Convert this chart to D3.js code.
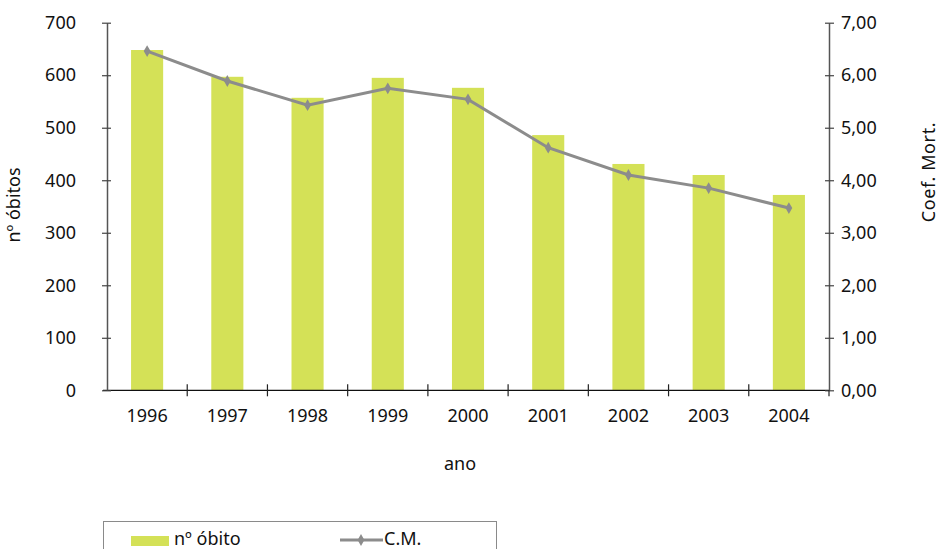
<!DOCTYPE html>
<html>
<head>
<meta charset="utf-8">
<script src="https://cdn.jsdelivr.net/npm/d3@7"></script>
<style>
  html, body { margin: 0; padding: 0; background: #fff; }
  svg text { font-family: "Noto Sans", "DejaVu Sans", sans-serif; fill: #111; }
</style>
</head>
<body>
<svg id="chart" width="948" height="549"></svg>
<script>
// Deaths per year and mortality coefficient
const years = ["1996", "1997", "1998", "1999", "2000", "2001", "2002", "2003", "2004"];
const obitos = [648, 597, 557, 595, 576, 486, 431, 410, 372];
const coefMort = [6.46, 5.89, 5.43, 5.75, 5.54, 4.62, 4.10, 3.85, 3.47];
const leftTicks = [0, 100, 200, 300, 400, 500, 600, 700];
const rightTicks = [0, 1, 2, 3, 4, 5, 6, 7];

const barColor = "#d4e157";
const lineColor = "#8c8c8c";
const fs = 18;

const svg = d3.select("#chart");
const plot = { left: 107, right: 829, top: 22.7, bottom: 390.3 };

const x = d3.scaleBand().domain(years).range([plot.left, plot.right]).paddingInner(0.6).paddingOuter(0.3);
const xEdges = d3.scaleBand().domain(years).range([plot.left, plot.right]);
const yL = d3.scaleLinear().domain([0, 700]).range([plot.bottom, plot.top]);
const yR = d3.scaleLinear().domain([0, 7]).range([plot.bottom, plot.top]);

// bars
svg.append("g").selectAll("rect").data(years).join("rect")
  .attr("x", d => x(d))
  .attr("width", x.bandwidth())
  .attr("y", (d, i) => yL(obitos[i]))
  .attr("height", (d, i) => plot.bottom - yL(obitos[i]))
  .attr("fill", barColor);

// x axis: baseline, ticks on category boundaries, year labels
const gx = svg.append("g");
gx.append("line").attr("x1", plot.left - 4).attr("x2", plot.right)
  .attr("y1", plot.bottom).attr("y2", plot.bottom)
  .attr("stroke", "#111").attr("stroke-width", 1.2);
const edges = years.slice(1).map(d => xEdges(d));
gx.selectAll("line.tk").data(edges).join("line").attr("class", "tk")
  .attr("x1", d => d).attr("x2", d => d)
  .attr("y1", plot.bottom - 6).attr("y2", plot.bottom + 6)
  .attr("stroke", "#222").attr("stroke-width", 1.2);
gx.selectAll("text").data(years).join("text")
  .attr("x", d => xEdges(d) + xEdges.bandwidth() / 2)
  .attr("y", 417)
  .attr("text-anchor", "middle").attr("dominant-baseline", "middle")
  .attr("font-size", fs)
  .text(d => d);

// left axis
const gl = svg.append("g").attr("transform", `translate(${plot.left},0)`)
  .call(d3.axisLeft(yL).tickValues(leftTicks).tickSize(0).tickPadding(31).tickFormat(d3.format("d")));
gl.select(".domain").attr("stroke", "#555").attr("stroke-width", 1.5);
gl.selectAll(".tick text").attr("font-size", fs).attr("fill", "#111");
gl.selectAll(".tick").append("line").attr("x1", -5).attr("x2", 4).attr("stroke", "#444").attr("stroke-width", 1.2);

// right axis
const gr = svg.append("g").attr("transform", `translate(${plot.right},0)`)
  .call(d3.axisRight(yR).tickValues(rightTicks).tickSize(0).tickPadding(12)
    .tickFormat(d => d3.format(".2f")(d).replace(".", ",")));
gr.select(".domain").attr("stroke", "#555").attr("stroke-width", 1.5);
gr.selectAll(".tick text").attr("font-size", fs).attr("fill", "#111");
gr.selectAll(".tick").append("line").attr("x1", -4).attr("x2", 5).attr("stroke", "#444").attr("stroke-width", 1.2);
gr.append("line").attr("x1", 0).attr("x2", 0).attr("y1", plot.bottom).attr("y2", plot.bottom + 6)
  .attr("stroke", "#222").attr("stroke-width", 1.2);

// mortality coefficient line
const cx = d => xEdges(d) + xEdges.bandwidth() / 2;
const line = d3.line().x((d, i) => cx(years[i])).y(d => yR(d));
svg.append("path").datum(coefMort)
  .attr("d", line).attr("fill", "none")
  .attr("stroke", lineColor).attr("stroke-width", 3);
const diamond = d3.symbol().type(d3.symbolDiamond).size(40);
svg.append("g").selectAll("path").data(coefMort).join("path")
  .attr("d", diamond)
  .attr("transform", (d, i) => `translate(${cx(years[i])},${yR(d)})`)
  .attr("fill", lineColor);

// axis titles
svg.append("text").attr("x", 460).attr("y", 465)
  .attr("text-anchor", "middle").attr("dominant-baseline", "middle")
  .attr("font-size", fs).text("ano");
svg.append("text").attr("transform", "translate(15,205) rotate(-90)")
  .attr("text-anchor", "middle").attr("dominant-baseline", "middle")
  .attr("font-size", fs).text("nº óbitos");
svg.append("text").attr("transform", "translate(930,172) rotate(-90)")
  .attr("text-anchor", "middle").attr("dominant-baseline", "middle")
  .attr("font-size", fs).attr("letter-spacing", 0.6).text("Coef. Mort.");

// legend
const lg = svg.append("g");
lg.append("rect").attr("x", 103.5).attr("y", 521.5).attr("width", 393).attr("height", 40)
  .attr("fill", "#fff").attr("stroke", "#8a8a8a").attr("stroke-width", 1);
lg.append("rect").attr("x", 131).attr("y", 536).attr("width", 38).attr("height", 10).attr("fill", barColor);
lg.append("text").attr("x", 174).attr("y", 545).attr("font-size", fs).text("nº óbito");
lg.append("line").attr("x1", 340).attr("x2", 383).attr("y1", 540).attr("y2", 540)
  .attr("stroke", lineColor).attr("stroke-width", 3);
lg.append("path").attr("d", diamond).attr("transform", "translate(361,540)").attr("fill", lineColor);
lg.append("text").attr("x", 384).attr("y", 545).attr("font-size", fs).text("C.M.");
</script>
</body>
</html>
